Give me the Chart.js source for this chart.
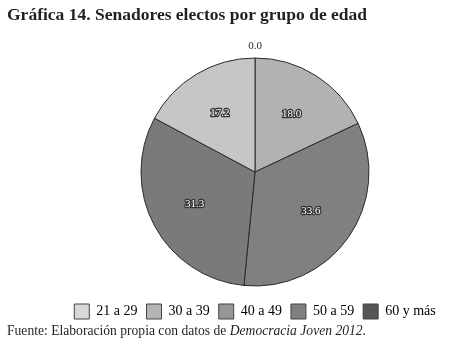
<!DOCTYPE html>
<html>
<head>
<meta charset="utf-8">
<script src="https://cdn.jsdelivr.net/npm/chart.js@4.4.0/dist/chart.umd.min.js"></script>
<style>
  html, body { margin: 0; padding: 0; background: #fff; }
  #wrap { position: relative; width: 451px; height: 346px; overflow: hidden; }
  #title {
    position: absolute; left: 7px; top: 4px;
    font: bold 17.5px "Liberation Serif", serif; color: #231f20; white-space: nowrap;
  }
  #fuente {
    position: absolute; left: 7px; top: 323px;
    font: 13.6px "Liberation Serif", serif; color: #231f20; white-space: nowrap;
  }
  canvas { position: absolute; left: 0; top: 0; }
</style>
</head>
<body>
<div id="wrap">
  <canvas id="pieChart" width="510" height="346"></canvas>
  <div id="title">Gráfica 14. Senadores electos por grupo de edad</div>
  <div id="fuente">Fuente: Elaboración propia con datos de <i>Democracia Joven 2012</i>.</div>
</div>
<script>
// datos
const labels = ['21 a 29', '30 a 39', '40 a 49', '50 a 59', '60 y más'];
const valores = [0.0, 18.0, 33.6, 31.3, 17.2];

// colores de las rebanadas (como aparecen en la imagen)
const coloresPie = ['#d6d6d6', '#b2b2b2', '#808080', '#7a7a7a', '#c6c6c6'];
// colores de la leyenda
const coloresLeyenda = ['#d8d8d8', '#b4b4b4', '#969696', '#7f7f7f', '#555555'];

// etiquetas de valor sobre cada rebanada
const etiquetasPlugin = {
    id: 'etiquetas',
    afterDatasetsDraw(chart) {
        const ctx = chart.ctx;
        const meta = chart.getDatasetMeta(0);
        ctx.save();
        ctx.font = '11px "Liberation Serif", serif';
        ctx.textAlign = 'center';
        ctx.textBaseline = 'middle';
        ctx.lineJoin = 'round';
        meta.data.forEach((arc, i) => {
            const p = arc.getProps(['x', 'y', 'startAngle', 'endAngle', 'outerRadius']);
            const mid = (p.startAngle + p.endAngle) / 2;
            const txt = valores[i].toFixed(1);
            if (valores[i] === 0) {
                const r = p.outerRadius + 12;
                ctx.fillStyle = '#231f20';
                ctx.fillText(txt, p.x + Math.cos(mid) * r, p.y + Math.sin(mid) * r);
                return;
            }
            const r = p.outerRadius * 0.6;
            const x = p.x + Math.cos(mid) * r;
            const y = p.y + Math.sin(mid) * r;
            ctx.lineWidth = 2.5;
            ctx.strokeStyle = '#333';
            ctx.strokeText(txt, x, y);
            ctx.fillStyle = '#fff';
            ctx.fillText(txt, x, y);
        });
        ctx.restore();
    }
};

const ctx = document.getElementById('pieChart').getContext('2d');
new Chart(ctx, {
    type: 'pie',
    data: {
        labels: labels,
        datasets: [{
            data: valores,
            backgroundColor: coloresPie,
            borderColor: '#2a2a2a',
            borderWidth: 1
        }]
    },
    options: {
        responsive: false,
        animation: false,
        radius: 114,
        layout: {
            padding: { top: 49, left: 0, right: 0, bottom: 17 }
        },
        plugins: {
            legend: {
                position: 'bottom',
                labels: {
                    boxWidth: 15,
                    boxHeight: 15,
                    padding: 9,
                    color: '#231f20',
                    font: { family: '"Liberation Serif", serif', size: 14 },
                    generateLabels: function(chart) {
                        return labels.map((l, i) => ({
                            text: l,
                            fillStyle: coloresLeyenda[i],
                            strokeStyle: '#444',
                            lineWidth: 1,
                            hidden: false,
                            index: i
                        }));
                    }
                }
            },
            tooltip: { enabled: false }
        }
    },
    plugins: [etiquetasPlugin]
});
</script>
</body>
</html>
